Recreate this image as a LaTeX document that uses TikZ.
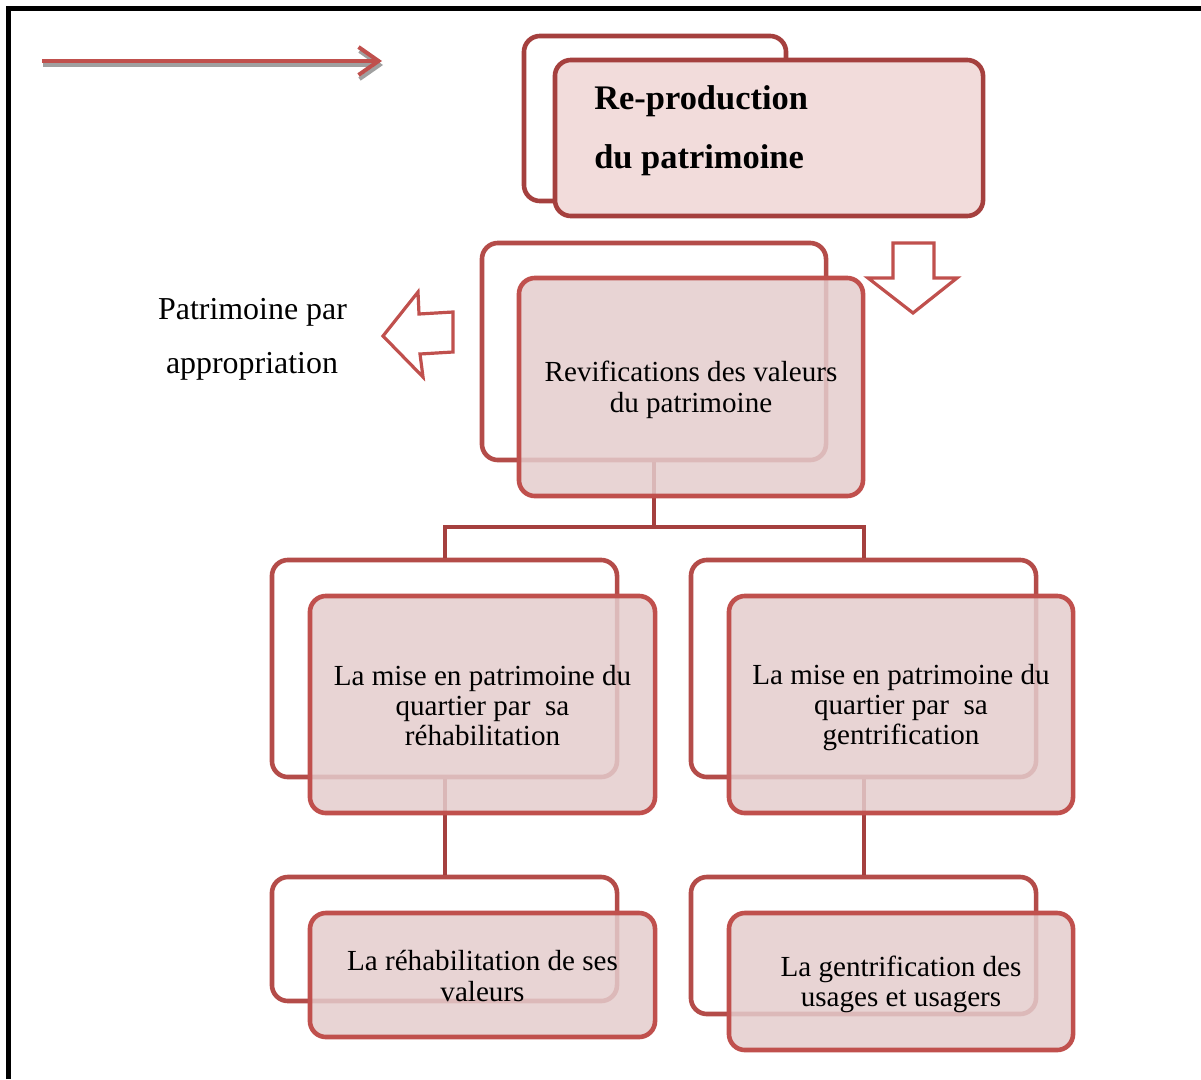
\documentclass[tikz,border=0pt]{standalone}
\usepackage{fontspec}
\setmainfont{Liberation Serif}
\usetikzlibrary{arrows.meta}
\definecolor{darkred}{HTML}{A5403E}
\definecolor{midred}{HTML}{C0504D}
\definecolor{backred}{HTML}{B44C49}
\definecolor{frontfill}{HTML}{E4CDCD}
\definecolor{topfill}{HTML}{F2DCDB}
\definecolor{shadowgray}{HTML}{A0A0A0}
\begin{document}
\begin{tikzpicture}[x=0.025cm,y=-0.025cm,
  backbox/.style={draw=backred, line width=0.115cm, rounded corners=0.4cm, fill=white, inner sep=0pt},
  frontbox/.style={draw=midred, line width=0.115cm, rounded corners=0.4cm, fill=frontfill, fill opacity=0.85, text opacity=1, inner sep=0pt, align=center, font=\fontsize{20.7}{21.6}\selectfont},
  topback/.style={draw=darkred, line width=0.115cm, rounded corners=0.4cm, fill=white, inner sep=0pt},
  topfront/.style={draw=darkred, line width=0.115cm, rounded corners=0.4cm, fill=topfill, inner sep=0pt},
  conn/.style={draw=darkred, line width=0.1cm},
  blockarrow/.style={draw=midred, line width=0.08cm, fill=white, line join=miter},
  plain/.style={inner sep=0pt, text=black}
]
\useasboundingbox (0,0) rectangle (1201,1079);
% frame (only top and left edges visible)
\draw[line width=0.125cm, black] (8.5,1079) -- (8.5,8.5) -- (1201,8.5);

% top-left arrow with shadow
\coordinate (s1) at (43,65);
\coordinate (s2) at (383,65);
\coordinate (a1) at (42,61);
\coordinate (a2) at (382,61);
\draw[shadowgray, line width=0.1cm, -{Straight Barb[length=0.5cm,width=0.7cm]}] (s1) -- (s2);
\draw[midred, line width=0.1cm, -{Straight Barb[length=0.5cm,width=0.7cm]}] (a1) -- (a2);

% top box
\node[topback, minimum width=6.55cm, minimum height=4.125cm] (topb) at (655,118.5) {};
\node[topfront, minimum width=10.7cm, minimum height=3.9cm] (topf) at (769,138) {};
\node[plain, anchor=base west, font=\fontsize{24.5}{28}\selectfont\bfseries] (t1) at (594,109) {Re-production};
\node[plain, anchor=base west, font=\fontsize{24.5}{28}\selectfont\bfseries] (t2) at (594,168) {du patrimoine};

% down arrow
\draw[blockarrow] (893,243) -- (934,243) -- (934,278) -- (957,278) -- (913,313) -- (868,278) -- (893,278) -- cycle;

% left arrow
\draw[blockarrow] (383,336) -- (418,292) -- (419,314) -- (453,312) -- (453,352) -- (420,354) -- (423,377) -- cycle;

% Patrimoine par appropriation
\node[plain, anchor=base, font=\fontsize{22.7}{26}\selectfont] (p1) at (252.5,319) {Patrimoine par};
\node[plain, anchor=base, font=\fontsize{22.7}{26}\selectfont] (p2) at (252,373) {appropriation};

% back boxes
\node[backbox, minimum width=8.6cm, minimum height=5.425cm] (rb) at (654,351.5) {};
\node[backbox, minimum width=8.625cm, minimum height=5.425cm] (mlb) at (444.5,668.5) {};
\node[backbox, minimum width=8.625cm, minimum height=5.425cm] (mrb) at (863.5,668.5) {};
\node[backbox, minimum width=8.625cm, minimum height=3.1cm] (blb) at (444.5,939) {};
\node[backbox, minimum width=8.625cm, minimum height=3.425cm] (brb) at (863.5,945.5) {};

% connectors
\draw[conn] (rb.south) -- (rb.south |- 0,527) -| (mlb.north);
\draw[conn] (rb.south |- 0,527) -| (mrb.north);
\draw[conn] (mlb.south) -- (blb.north);
\draw[conn] (mrb.south) -- (brb.north);

% front boxes
\node[frontbox, minimum width=8.6cm, minimum height=5.45cm] (rf) at (691,387) {};
\node[frontbox, minimum width=8.625cm, minimum height=5.425cm] (mlf) at (482.5,704.5) {};
\node[frontbox, minimum width=8.6cm, minimum height=5.425cm] (mrf) at (901,704.5) {};
\node[frontbox, minimum width=8.625cm, minimum height=3.1cm] (blf) at (482.5,975) {};
\node[frontbox, minimum width=8.6cm, minimum height=3.425cm] (brf) at (901,981.5) {};

\tikzset{boxtext/.style={plain, align=center, font=\fontsize{20.7}{21.6}\selectfont}}
\node[boxtext] (rt) at (691,390) {Revifications des valeurs\\du patrimoine};
\node[boxtext] (mlt) at (482.5,705.5) {La mise en patrimoine du\\quartier par\ \ sa\\réhabilitation};
\node[boxtext] (mrt) at (901,707.5) {La mise en patrimoine du\\quartier par\ \ sa\\gentrification};
\node[boxtext] (blt) at (482.5,976) {La réhabilitation de ses\\valeurs};
\node[boxtext] (brt) at (901,984.5) {La gentrification des\\usages et usagers};
\end{tikzpicture}
\end{document}
